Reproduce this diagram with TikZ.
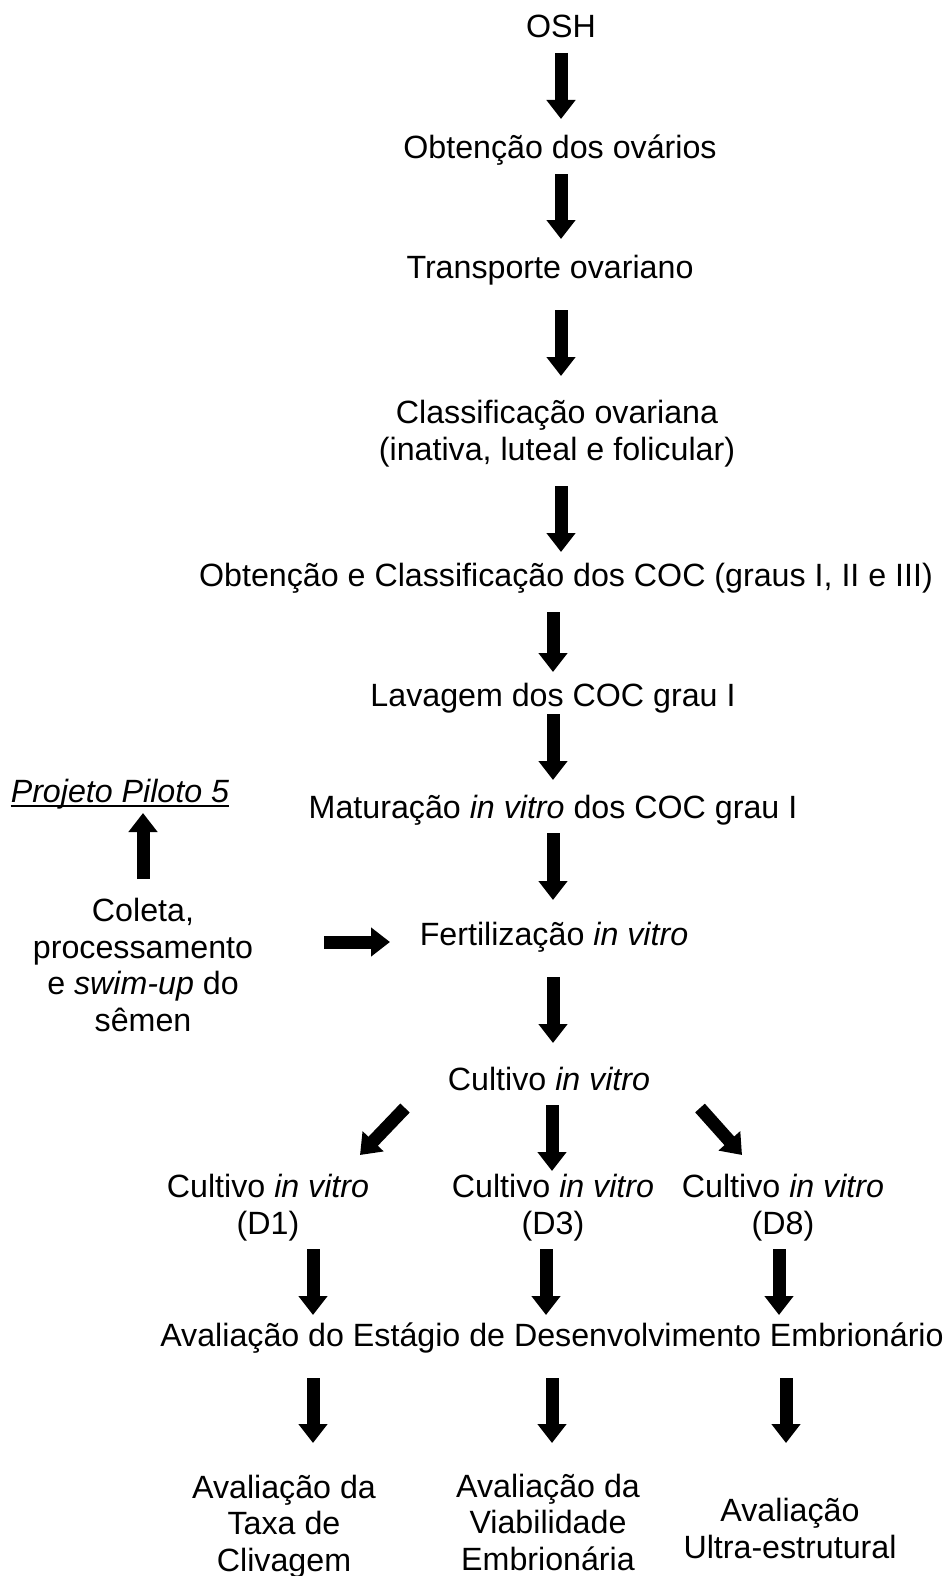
\documentclass[tikz,border=0pt]{standalone}
\usepackage{fontspec}
\setmainfont{Liberation Sans}
\usetikzlibrary{arrows.meta}
\tikzset{
    passo/.style={ % Sets the properties for each step of the scheme
        inner sep=0pt,
        anchor=base, % multi-line steps: base is the last line
        align=center,
        font=\fontsize{32.2}{36.5}\selectfont
    },
    seta/.style={ % Thick block arrows between the steps
        draw,
        line width=13pt,
        -{Triangle[length=19pt,width=28pt]}
    }
}

\begin{document}
\begin{tikzpicture}[x=1pt, y=-1pt]
        \useasboundingbox (0,0) rectangle (944,1576);
        % coluna central
        \node[passo] (osh)    at (561,38)   {OSH};
        \node[passo] (obt)    at (560,158)  {Obtenção dos ovários};
        \node[passo] (transp) at (550,278)  {Transporte ovariano};
        \node[passo] (class)  at (557,460)  {Classificação ovariana\\(inativa, luteal e folicular)};
        \node[passo] (coc)    at (566,586)  {Obtenção e Classificação dos COC (graus I, II e III)};
        \node[passo] (lav)    at (553,706)  {Lavagem dos COC grau I};
        \node[passo] (mat)    at (553,818)  {Maturação \textit{in vitro} dos COC grau I};
        \node[passo] (fert)   at (554,945)  {Fertilização \textit{in vitro}};
        \node[passo] (cult)   at (549,1090) {Cultivo \textit{in vitro}};
        % coluna da esquerda
        \node[passo] (piloto) at (120,802)  {\textit{Projeto Piloto 5}};
        \node[passo] (coleta) at (143,1031) {Coleta,\\processamento\\e \textit{swim-up} do\\sêmen};
        % tres ramos
        \node[passo] (d1)     at (268,1234) {Cultivo \textit{in vitro}\\(D1)};
        \node[passo] (d3)     at (553,1234) {Cultivo \textit{in vitro}\\(D3)};
        \node[passo] (d8)     at (783,1234) {Cultivo \textit{in vitro}\\(D8)};
        \node[passo] (aval)   at (552,1346) {Avaliação do Estágio de Desenvolvimento Embrionário};
        \node[passo] (taxa)   at (284,1571) {Avaliação da\\Taxa de\\Clivagem};
        \node[passo] (viab)   at (548,1570) {Avaliação da\\Viabilidade\\Embrionária};
        \node[passo] (ultra)  at (790,1558) {Avaliação\\Ultra-estrutural};

        % sublinhado
        \draw[line width=2pt] ([yshift=-4]piloto.base west) -- ([yshift=-4]piloto.base east);

        \path[every edge/.style={seta}]
                % coluna central
                ([yshift=-15]osh.base)              edge ([xshift=1,yshift=39]obt.base)
                ([xshift=1,yshift=-16]obt.base)     edge ([xshift=11,yshift=39]transp.base)
                ([xshift=11,yshift=-32]transp.base) edge ([xshift=4,yshift=84]class.base)
                ([xshift=4,yshift=-26]class.base)   edge ([xshift=-5,yshift=34]coc.base)
                ([xshift=-13,yshift=-26]coc.base)   edge ([yshift=34]lav.base)
                ([yshift=-8]lav.base)               edge ([yshift=38]mat.base)
                ([yshift=-15]mat.base)              edge ([xshift=-1,yshift=45]fert.base)
                ([xshift=-1,yshift=-32]fert.base)   edge ([xshift=4,yshift=47]cult.base)
                % semen
                ([yshift=152]coleta.base)           edge ([xshift=23,yshift=-11]piloto.base)
                ([xshift=181,yshift=89]coleta.base) edge ([xshift=-164,yshift=3]fert.base)
                % ramos
                ([xshift=-144,yshift=-18]cult.base) edge ([xshift=92,yshift=79]d1.base)
                ([xshift=3,yshift=-15]cult.base)    edge ([xshift=-1,yshift=63]d3.base)
                ([xshift=151,yshift=-18]cult.base)  edge ([xshift=-41,yshift=79]d8.base)
                ([xshift=45,yshift=-15]d1.base)     edge ([xshift=-239,yshift=31]aval.base)
                ([xshift=-7,yshift=-15]d3.base)     edge ([xshift=-6,yshift=31]aval.base)
                ([xshift=-4,yshift=-15]d8.base)     edge ([xshift=227,yshift=31]aval.base)
                % avaliacoes
                ([xshift=-239,yshift=-32]aval.base) edge ([xshift=29,yshift=128]taxa.base)
                ([yshift=-32]aval.base)             edge ([xshift=4,yshift=127]viab.base)
                ([xshift=234,yshift=-32]aval.base)  edge ([xshift=-4,yshift=115]ultra.base)
        ;
\end{tikzpicture}
\end{document}
